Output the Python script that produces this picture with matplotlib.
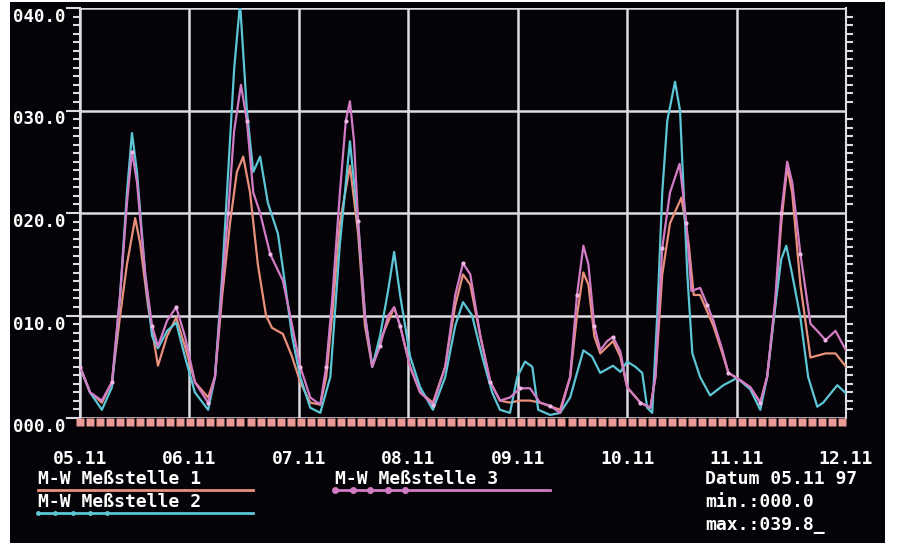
import matplotlib.pyplot as plt
import numpy as np
from matplotlib.patches import Rectangle
from matplotlib.lines import Line2D
from matplotlib.ticker import MultipleLocator
from matplotlib.transforms import ScaledTranslation

# hours since 05.11 00:00, concentration values
t1 = [0, 2.2, 4.8, 7.0, 8.8, 10.3, 12.1, 13.2, 14.9, 17.1, 19.1, 21.1, 23.0, 25.2, 28.1,
      29.6, 31.2, 32.9, 34.4, 35.8, 37.3, 39.0, 40.8, 42.1, 44.5, 46.5, 48.3, 50.5, 52.7,
      54.0, 55.3, 57.0, 59.2, 61.0, 62.5, 64.1, 65.8, 68.9, 70.2, 72.4, 74.6, 77.4, 80.1,
      82.3, 84.0, 85.6, 87.8, 90.0, 92.1, 94.3, 96.5, 98.7, 100.9, 105.3, 107.5, 109.0,
      110.4, 111.5, 112.8, 114.1, 116.9, 118.5, 120.0, 122.9, 125.1, 126.2, 127.7, 129.4,
      131.9, 133.5, 134.6, 136.0, 138.9, 140.9, 142.2, 144.1, 147.0, 149.2, 150.7, 152.5,
      153.8, 155.1, 156.2, 158.0, 160.2, 163.5, 165.7, 168.0]
v1 = [5, 2.5, 1.5, 3.5, 10, 15, 19.5, 17, 11, 5.1, 8, 9.8, 7, 3.5, 2,
      4, 12, 19, 24, 25.5, 22, 15, 10, 8.8, 8.2, 6, 3.5, 1.5, 1.3,
      4, 10, 19, 24.6, 18, 9, 5, 7.5, 10.8, 9, 5, 2.5, 1.5, 5,
      11, 14, 13, 8, 3.5, 1.7, 1.5, 1.7, 1.7, 1.5, 0.8, 4, 10,
      14.2, 13, 8, 6.3, 7.5, 6, 3, 1.5, 1, 4, 14, 19,
      21.5, 17, 12, 12, 9, 6.3, 4.4, 3.9, 3, 1.5, 4, 11,
      19, 24.5, 22, 13, 5.9, 6.3, 6.3, 5]

t2 = [0, 2.2, 4.8, 7.0, 8.8, 10.3, 11.4, 12.5, 14.3, 15.8, 17.1, 19.1, 21.1, 23.0, 25.2,
      28.1, 29.6, 31.2, 32.5, 33.8, 35.1, 36.6, 38.0, 39.5, 41.2, 43.4, 45.0, 46.5, 48.3,
      50.5, 52.7, 54.9, 57.0, 59.2, 61.0, 62.5, 64.1, 65.8, 67.6, 68.9, 70.2, 72.4, 74.6,
      77.4, 80.1, 82.3, 84.0, 86.0, 88.2, 90.4, 92.1, 94.3, 95.9, 97.6, 99.2, 100.5, 103.1,
      105.3, 107.5, 110.4, 112.3, 114.1, 116.9, 118.5, 120.0, 121.8, 123.3, 124.4, 125.5,
      126.6, 127.7, 128.8, 130.5, 131.6, 133.2, 134.3, 136.0, 138.2, 141.1, 144.1, 147.0,
      149.2, 150.7, 152.5, 153.8, 154.9, 156.2, 158.0, 159.7, 161.7, 163.0, 166.1, 168.0]
v2 = [5, 2.5, 0.8, 3, 12, 22, 27.8, 24, 14, 8, 6.8, 8.5, 9.3, 6, 2.5,
      0.8, 4, 14, 24, 34, 40.5, 30, 24, 25.5, 21, 18, 13, 8, 4,
      1, 0.5, 4, 17, 27, 19, 10, 5, 8, 12.5, 16.2, 12, 6, 3,
      0.8, 4, 9, 11.3, 10, 6, 2.5, 0.8, 0.5, 4, 5.5, 5, 0.8, 0.3,
      0.5, 2, 6.6, 6, 4.4, 5.1, 4.5, 5.5, 5, 4.4, 1, 0.5,
      10, 22, 29, 32.8, 30, 14, 6.3, 4, 2.2, 3.2, 3.9, 2.8,
      0.8, 4, 11, 15.5, 16.8, 14, 9.8, 4, 1.1, 1.5, 3.2, 2.4]

t3 = [0, 2.2, 4.8, 7.0, 8.8, 10.3, 11.4, 12.5, 14.3, 15.8, 17.1, 19.1, 21.1, 23.0, 25.2,
      28.1, 29.6, 31.2, 32.5, 33.8, 35.3, 36.6, 38.0, 39.5, 41.7, 44.5, 46.1, 48.3, 50.5,
      52.7, 54.0, 55.3, 57.0, 58.3, 59.2, 60.1, 61.0, 62.5, 64.1, 65.8, 67.6, 68.9, 70.2,
      72.4, 74.6, 77.4, 80.1, 82.3, 84.0, 85.6, 87.8, 90.0, 92.1, 94.3, 96.5, 98.7, 100.9,
      103.1, 105.3, 107.5, 109.0, 110.4, 111.5, 112.8, 114.1, 115.6, 116.9, 118.5, 120.0,
      122.9, 125.1, 126.2, 127.7, 129.4, 131.5, 133.0, 134.1, 136.0, 137.6, 138.9, 140.9,
      142.2, 144.1, 147.0, 149.2, 150.7, 152.5, 153.8, 155.1, 156.2, 158.0, 160.2, 161.7,
      163.5, 165.7, 168.0]
v3 = [5, 2.5, 1.7, 3.5, 12, 21, 26, 23, 14, 9, 7, 9.5, 10.8, 8, 3.5,
      1.5, 4, 13, 20, 28, 32.5, 29, 22, 20, 16, 13.4, 10, 5, 2,
      1.3, 5, 11.5, 22, 29, 30.9, 27, 19.2, 10, 5, 7, 10, 10.8, 9,
      5, 2.5, 1.3, 5, 12, 15.1, 14, 8, 3.5, 1.7, 2, 2.9, 2.9, 1.5,
      1.2, 0.5, 4, 12, 16.8, 15, 9, 6.6, 7.5, 7.9, 6.5, 3,
      1.5, 1, 4, 16.6, 22, 24.8, 19, 12.4, 12.7, 11, 9.5, 6.6,
      4.4, 3.9, 3, 1.5, 4, 11.7, 20, 25, 23, 16, 9.2, 8.5,
      7.6, 8.5, 6.6]

days = ['05.11', '06.11', '07.11', '08.11', '09.11', '10.11', '11.11', '12.11']
ylabels = ['000.0', '010.0', '020.0', '030.0', '040.0']
zero_t = np.arange(0, 168.1, 2.2)
zero_v = np.zeros_like(zero_t)

c1 = '#e8907c'
c2 = '#5cc6d6'
c3 = '#d27cc6'
band = '#eb9a96'
grid = '#dcdce4'
mono = 'DejaVu Sans Mono'
fs = 13

W, H = 901, 545
fig = plt.figure(figsize=(W / 100, H / 100), dpi=100, facecolor='white')
fig.patches.append(Rectangle((10 / W, 2 / H), 875 / W, 541 / H, transform=fig.transFigure,
                             facecolor='#050307', edgecolor='none', zorder=-5))

ax = fig.add_axes([80 / W, (H - 418) / H, 766 / W, 410 / H], zorder=2)
ax.set_facecolor('#050307')
ax.set_xlim(0, 168)
ax.set_ylim(0, 40)

ax.plot(t1, v1, color=c1, lw=1.6, zorder=3, solid_joinstyle='round')
ax.plot(t2, v2, color=c2, lw=1.6, zorder=4, solid_joinstyle='round')
ax.plot(t3, v3, color=c3, lw=1.6, zorder=5, marker='o', ms=3, mfc='#f0b8e4',
        mec='none', markevery=3, solid_joinstyle='round')

off = ax.transData + ScaledTranslation(0, -4 / 100, fig.dpi_scale_trans)
ax.plot(zero_t, zero_v, ls='none', marker='s', ms=5.6, color=band, mec='none',
        transform=off, clip_on=False, zorder=6)

ax.set_xticks(np.arange(0, 169, 24))
ax.set_xticklabels(days, fontfamily=mono, fontweight='bold', fontsize=fs, color='white')
ax.tick_params(axis='x', length=0, pad=23)
ax.set_yticks(np.arange(0, 41, 10))
ax.set_yticklabels(ylabels, fontfamily=mono, fontweight='bold', fontsize=12.5, color='white')
for lab in ax.get_yticklabels():
    lab.set_va('top')
ax.yaxis.set_minor_locator(MultipleLocator(10 / 12))
ax.tick_params(axis='y', which='major', length=10, width=1.5, color=grid, pad=0.5)
ax.tick_params(axis='y', which='minor', length=5, width=1.5, color=grid,
               right=True, left=True, direction='out')
ax.grid(True, color=grid, lw=1.8, zorder=1)

for s in ['top', 'bottom']:
    ax.spines[s].set_visible(False)
for s in ['left', 'right']:
    ax.spines[s].set_color(grid)
    ax.spines[s].set_linewidth(1.5)

# legend block drawn like the screen
def ft(x, y, s):
    fig.text(x / W, 1 - y / H, s, fontfamily=mono, fontweight='bold', fontsize=fs,
             color='white', va='center', ha='left')

def fl(x0, x1, y, col, dots=None, ms=4):
    fig.add_artist(Line2D([x0 / W, x1 / W], [1 - y / H, 1 - y / H], color=col, lw=2))
    if dots:
        xs = np.linspace(x0, dots, 5)
        fig.add_artist(Line2D(xs / W, [1 - y / H] * 5, ls='none', marker='o', ms=ms,
                              color=col))

ft(38, 479, 'M-W Meßstelle 1')
fl(38, 253, 490, c1)
ft(38, 502, 'M-W Meßstelle 2')
fl(38, 253, 513, c2, dots=107, ms=2.5)
ft(335, 479, 'M-W Meßstelle 3')
fl(335, 550, 490, c3, dots=405)
ft(705, 479, 'Datum 05.11 97')
ft(705, 502, 'min.:000.0')
ft(705, 525, 'max.:039.8_')

fig.savefig('out.png', dpi=100, facecolor='white')
